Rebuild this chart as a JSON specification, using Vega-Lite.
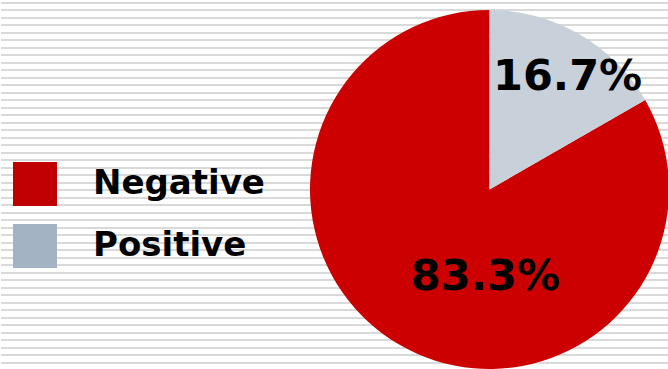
{
  "$schema": "https://vega.github.io/schema/vega-lite/v6.json",
  "padding": 0,
  "spacing": 0,
  "bounds": "flush",
  "background": "white",
  "config": {
    "view": {"stroke": null},
    "concat": {"spacing": 0}
  },
  "datasets": {
    "stripes": [
      {"k": 0}, {"k": 1}, {"k": 2}, {"k": 3}, {"k": 4}, {"k": 5}, {"k": 6}, {"k": 7}, {"k": 8}, {"k": 9},
      {"k": 10}, {"k": 11}, {"k": 12}, {"k": 13}, {"k": 14}, {"k": 15}, {"k": 16}, {"k": 17}, {"k": 18}, {"k": 19},
      {"k": 20}, {"k": 21}, {"k": 22}, {"k": 23}, {"k": 24}, {"k": 25}, {"k": 26}, {"k": 27}, {"k": 28}, {"k": 29},
      {"k": 30}, {"k": 31}, {"k": 32}, {"k": 33}, {"k": 34}, {"k": 35}, {"k": 36}, {"k": 37}, {"k": 38}, {"k": 39},
      {"k": 40}, {"k": 41}, {"k": 42}, {"k": 43}, {"k": 44}, {"k": 45}, {"k": 46}, {"k": 47}, {"k": 48}
    ],
    "pie": [
      {"category": "Negative", "value": 83.3, "label": "83.3%"},
      {"category": "Positive", "value": 16.7, "label": "16.7%"}
    ]
  },
  "hconcat": [
    {
      "width": 309,
      "height": 379,
      "layer": [
        {
          "data": {"name": "stripes"},
          "mark": {"type": "rule", "color": "#d9d9d9", "strokeWidth": 2},
          "encoding": {
            "y": {"field": "k", "type": "quantitative", "axis": null,
                  "scale": {"domain": [-0.38667, 50.14667], "reverse": true, "nice": false, "zero": false, "round": true}}
          }
        },
        {
          "data": {"name": "pie"},
          "transform": [{"filter": "false"}],
          "mark": {"type": "point", "filled": true, "shape": "square"},
          "encoding": {
            "fill": {
              "field": "category", "type": "nominal",
              "scale": {"domain": ["Negative", "Positive"], "range": ["#c00000", "#a4b3c4"]},
              "legend": {
                "title": null,
                "orient": "none",
                "legendX": 12,
                "legendY": 162,
                "padding": 0,
                "symbolType": "square",
                "symbolSize": 1936,
                "symbolStrokeWidth": 0,
                "symbolOpacity": 1,
                "labelFont": "DejaVu Sans",
                "labelFontWeight": "bold",
                "labelFontSize": 34,
                "labelColor": "black",
                "labelOffset": 36,
                "labelLimit": 400,
                "rowPadding": 18
              }
            }
          }
        }
      ]
    },
    {
      "width": 359,
      "height": 379,
      "layer": [
        {
          "data": {"name": "stripes"},
          "mark": {"type": "rule", "color": "#d9d9d9", "strokeWidth": 2},
          "encoding": {
            "y": {"field": "k", "type": "quantitative", "axis": null,
                  "scale": {"domain": [-0.38667, 50.14667], "reverse": true, "nice": false, "zero": false, "round": true}}
          }
        },
        {
          "data": {"name": "pie"},
          "mark": {"type": "arc"},
          "encoding": {
            "theta": {"field": "value", "type": "quantitative", "stack": true},
            "order": {"field": "category", "type": "ordinal", "sort": "descending"},
            "color": {
              "field": "category", "type": "nominal",
              "scale": {"domain": ["Negative", "Positive"], "range": ["#cc0000", "#c8d0da"]},
              "legend": null
            }
          }
        },
        {
          "data": {"name": "pie"},
          "mark": {"type": "text", "radius": 100, "dx": 46, "dy": 1, "font": "DejaVu Sans", "fontWeight": "bold", "fontSize": 43, "color": "black", "align": "center", "baseline": "middle"},
          "encoding": {
            "theta": {"field": "value", "type": "quantitative", "stack": true},
            "order": {"field": "category", "type": "ordinal", "sort": "descending"},
            "text": {"condition": {"test": "datum.category === 'Negative'", "field": "label"}, "value": ""}
          }
        },
        {
          "data": {"name": "pie"},
          "mark": {"type": "text", "radius": 132, "dx": 12, "dy": 2, "font": "DejaVu Sans", "fontWeight": "bold", "fontSize": 43, "color": "black", "align": "center", "baseline": "middle"},
          "encoding": {
            "theta": {"field": "value", "type": "quantitative", "stack": true},
            "order": {"field": "category", "type": "ordinal", "sort": "descending"},
            "text": {"condition": {"test": "datum.category === 'Positive'", "field": "label"}, "value": ""}
          }
        }
      ]
    }
  ]
}
